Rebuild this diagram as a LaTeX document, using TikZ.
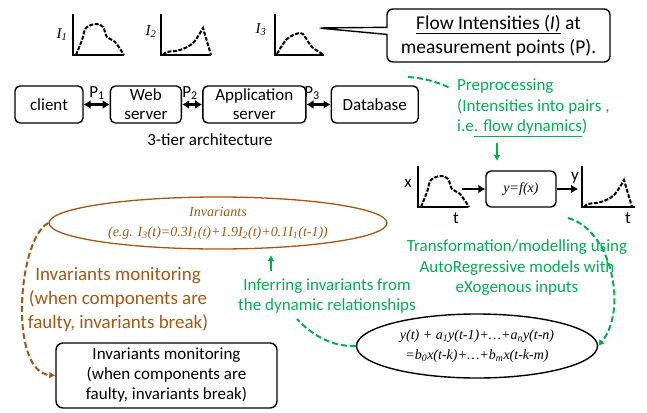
\documentclass[tikz,border=0pt]{standalone}
\usepackage{fontspec}
\setmainfont{Carlito}
\newfontfamily\timesfont{Liberation Serif}
\usetikzlibrary{arrows.meta,positioning,shapes.geometric,shapes.callouts}
\definecolor{invbrown}{RGB}{166,86,20}
\definecolor{flowgreen}{RGB}{0,176,80}
\newcommand{\drawaxes}[3]{\draw[axisline] (#1,#2-41) -- (#1,#2) -- (#1+#3,#2);}
\newcommand{\bumpcurve}[2]{\draw[flowcurve,shift={(#1,#2)}] plot[smooth,tension=0.6] coordinates {(3,0) (9,-15) (13,-27) (23,-31) (30,-28) (34,-18) (42,-13) (51,0)};}
\newcommand{\rampcurve}[2]{\draw[flowcurve,shift={(#1,#2)}] plot[smooth,tension=0.6] coordinates {(2,0) (6,-3) (19,-5) (32,-12) (42,-27)} -- (50,0);}
\newcommand{\smallbump}[2]{\draw[flowcurve,shift={(#1,#2)}] plot[smooth,tension=0.6] coordinates {(2,-1) (12,-16) (25,-22) (30,-18) (37,-8) (49,0)};}

\tikzset{
  axisline/.style={line width=2pt},
  flowcurve/.style={line width=2pt, dash pattern=on 4pt off 1.5pt},
  tierbox/.style={draw, line width=1.4pt, rounded corners=5pt, align=center, inner sep=0pt,
    minimum height=37pt, font=\fontsize{17}{19}\selectfont},
  linkarrow/.style={line width=2.5pt, {Latex[length=7pt,width=9pt]}-{Latex[length=7pt,width=9pt]}},
  flowarrow/.style={line width=2.5pt, -{Latex[length=7pt,width=9pt]}},
  plainlabel/.style={font=\fontsize{17}{19}\selectfont, inner sep=0pt},
  ilabel/.style={font=\timesfont\itshape\fontsize{15}{17}\selectfont, inner sep=0pt},
  greentext/.style={text=flowgreen, font=\fontsize{17}{20.5}\selectfont, inner sep=0pt},
  greendash/.style={draw=flowgreen, line width=2pt, dash pattern=on 6pt off 3pt},
  invdash/.style={draw=invbrown, line width=2pt, dash pattern=on 6pt off 3pt},
}

\begin{document}
\begin{tikzpicture}[x=1pt,y=-1pt]
  \useasboundingbox (0,0) rectangle (647,412);

  % flow intensities at P1..P3
  \drawaxes{73}{55}{51}
  \bumpcurve{73}{55}
  \drawaxes{161}{55}{50}
  \rampcurve{161}{55}
  \drawaxes{275}{55}{49}
  \smallbump{275}{55}
  \node[ilabel] (i1) at (62,35) {I\textsubscript{1}};
  \node[ilabel] (i2) at (151,32) {I\textsubscript{2}};
  \node[ilabel] (i3) at (261,30) {I\textsubscript{3}};

  \node[rectangle callout, draw, line width=1.4pt, rounded corners=6pt, minimum width=223pt,
    minimum height=53pt, align=center, callout absolute pointer={(318,28)},
    font=\fontsize{19.5}{24}\selectfont] (flownote) at (498.5,35.5)
    {\underline{Flow Intensities (\textit{I})} at\\measurement points (P).};

  % 3-tier architecture
  \node[tierbox, minimum width=68pt] (client) at (49,104.5) {client};
  \node[tierbox, minimum width=71pt, right=26pt of client] (web) {Web\\server};
  \node[tierbox, minimum width=103pt, right=20pt of web] (app) {Application\\server};
  \node[tierbox, minimum width=87pt, right=24pt of app] (db) {Database};
  \draw[linkarrow] (client) -- (web);
  \draw[linkarrow] (web) -- (app);
  \draw[linkarrow] (app) -- (db);
  \node[plainlabel] (p1) at (97,93) {P\textsubscript{1}};
  \node[plainlabel] (p2) at (190,93) {P\textsubscript{2}};
  \node[plainlabel] (p3) at (312,93) {P\textsubscript{3}};
  \node[plainlabel] (arch) at (210,140) {3-tier architecture};

  % preprocessing
  \node[greentext, anchor=west, align=left] (prep) at (457,108)
    {Preprocessing\\(Intensities into pairs ,\\i.e\underline{. flow dynamics})};
  \coordinate (prepstart) at (408,77);
  \coordinate (prepend) at (450,88);
  \draw[greendash] (prepstart) .. controls (425,78) and (440,83) .. (prepend);
  \coordinate (preptail) at (497,143);
  \coordinate (preptip) at (497,161);
  \draw[greendash, solid, -{Latex[length=6pt,width=7pt]}] (preptail) -- (preptip);

  % x -> f -> y
  \drawaxes{418}{207}{50}
  \bumpcurve{418}{207}
  \node[plainlabel] (xlab) at (408,183) {x};
  \node[plainlabel] (t1) at (456,218) {t};
  \node[draw, line width=1.4pt, rounded corners=5pt, minimum width=70pt, minimum height=36pt,
    font=\timesfont\itshape\fontsize{14}{16}\selectfont] (fbox) at (521,189) {y=f(x)};
  \coordinate (xout) at (462,189);
  \coordinate (yin) at (578,189);
  \draw[flowarrow] (xout) -- (fbox);
  \draw[flowarrow] (fbox) -- (yin);
  \drawaxes{582}{207}{53}
  \rampcurve{582}{207}
  \node[plainlabel] (ylab) at (575,178) {y};
  \node[plainlabel] (t2) at (628,218) {t};

  % ARX model
  \node[greentext, align=center] (modeltext) at (517,268)
    {Transformation/modelling using\\AutoRegressive models with\\eXogenous inputs};
  \node[ellipse, draw, line width=1.4pt, minimum width=241pt, minimum height=64pt, inner sep=0pt,
    align=center, font=\timesfont\itshape\fontsize{14}{20}\selectfont] (arx) at (477,346)
    {y(t) + a\textsubscript{1}y(t-1)+\dots+a\textsubscript{n}y(t-n)\\
     =b\textsubscript{0}x(t-k)+\dots+b\textsubscript{m}x(t-k-m)};
  \coordinate (modelstart) at (568,218);
  \draw[greendash, -{Latex[length=6pt,width=7pt]}] (modelstart) .. controls (612,230) and (628,310) .. (arx.east);

  % invariants
  \node[greentext, align=center] (infer) at (327,296)
    {Inferring invariants from\\the dynamic relationships};
  \coordinate (inferend) at (297,319);
  \draw[greendash] (arx.west) .. controls (330,347) and (310,333) .. (inferend);
  \coordinate (infertail) at (271,271);
  \coordinate (infertip) at (271,255);
  \draw[greendash, solid, -{Latex[length=6pt,width=7pt]}] (infertail) -- (infertip);

  \node[ellipse, draw=invbrown, line width=1.3pt, text=invbrown, minimum width=338pt,
    minimum height=52pt, inner sep=0pt, align=center,
    font=\timesfont\itshape\fontsize{14}{20}\selectfont] (inv) at (218,223)
    {Invariants\\(e.g. I\textsubscript{3}(t)=0.3I\textsubscript{1}(t)+1.9I\textsubscript{2}(t)+0.1I\textsubscript{1}(t-1))};

  % monitoring
  \node[text=invbrown, align=center, inner sep=0pt, font=\fontsize{19}{24}\selectfont] (montext) at (118,299)
    {Invariants monitoring\\(when components are\\faulty, invariants break)};
  \node[draw, line width=1.4pt, rounded corners=7pt, minimum width=221pt, minimum height=65pt,
    inner sep=0pt, align=center, font=\fontsize{17}{20}\selectfont] (monbox) at (166.5,375.5)
    {Invariants monitoring\\(when components are\\faulty, invariants break)};
  \draw[invdash, -{Latex[length=6pt,width=7pt]}] (inv.west) .. controls (18,238) and (8,372) .. (monbox.west);
\end{tikzpicture}
\end{document}
